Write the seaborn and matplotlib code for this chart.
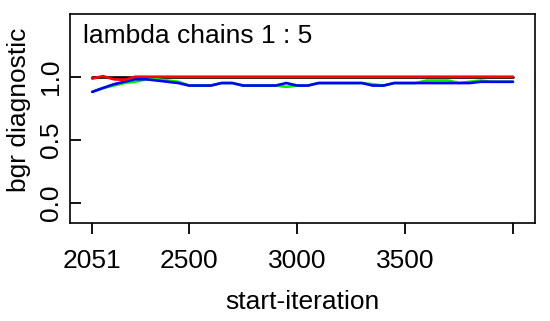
import matplotlib
matplotlib.use("Agg")
import matplotlib.pyplot as plt
import seaborn as sns
import pandas as pd

iterations = [2051, 2100, 2150, 2200, 2250, 2300, 2350, 2400, 2450, 2500,
              2550, 2600, 2650, 2700, 2750, 2800, 2850, 2900, 2950, 3000,
              3050, 3100, 3150, 3200, 3250, 3300, 3350, 3400, 3450, 3500,
              3550, 3600, 3650, 3700, 3750, 3800, 3850, 3900, 3950, 4000]

black_vals = [1.0] * 40

green_vals = [0.88, 0.91, 0.93, 0.95, 0.96, 0.98, 0.98, 0.97, 0.96, 0.93,
              0.93, 0.93, 0.95, 0.95, 0.93, 0.93, 0.93, 0.93, 0.92, 0.93,
              0.93, 0.95, 0.95, 0.95, 0.95, 0.95, 0.94, 0.93, 0.95, 0.95,
              0.95, 0.97, 0.97, 0.97, 0.95, 0.96, 0.97, 0.96, 0.96, 0.96]

blue_vals = [0.88, 0.91, 0.94, 0.96, 0.98, 0.98, 0.97, 0.96, 0.95, 0.93,
             0.93, 0.93, 0.95, 0.95, 0.93, 0.93, 0.93, 0.93, 0.95, 0.93,
             0.93, 0.95, 0.95, 0.95, 0.95, 0.95, 0.93, 0.93, 0.95, 0.95,
             0.95, 0.95, 0.95, 0.95, 0.95, 0.95, 0.96, 0.96, 0.96, 0.96]

red_vals = [0.985, 1.005, 0.98, 0.975, 1.0, 1.0, 1.0, 1.0, 1.0, 1.0,
            1.0, 1.0, 1.0, 1.0, 1.0, 1.0, 1.0, 1.0, 1.0, 1.0,
            1.0, 1.0, 1.0, 1.0, 1.0, 1.0, 1.0, 1.0, 1.0, 1.0,
            1.0, 1.0, 1.0, 1.0, 1.0, 1.0, 1.0, 1.0, 1.0, 1.0]

x_ticks = [2051, 2500, 3000, 3500, 4000]
x_tick_labels = ["2051", "2500", "3000", "3500", ""]
y_ticks = [0.0, 0.5, 1.0]
y_tick_labels = ["0.0", "0.5", "1.0"]

sns.set_style("white")
plt.rcParams['font.family'] = ['Liberation Sans', 'DejaVu Sans']
plt.rcParams['text.color'] = 'black'
plt.rcParams['axes.labelcolor'] = 'black'
plt.rcParams['xtick.color'] = 'black'
plt.rcParams['ytick.color'] = 'black'

W, H = 550, 321
fig = plt.figure(figsize=(W / 100, H / 100), dpi=100)
ax = fig.add_axes([70 / W, 1 - 222.5 / H, 465 / W, 208.5 / H])

frames = []
for name, vals in [("black", black_vals), ("green", green_vals),
                   ("blue", blue_vals), ("red", red_vals)]:
    frames.append(pd.DataFrame({"iteration": iterations, "value": vals, "series": name}))
df = pd.concat(frames, ignore_index=True)

palette = {"black": "#000000", "green": "#00ee00", "blue": "#0000ff", "red": "#ff0000"}
for name in ["black", "green", "blue", "red"]:
    sns.lineplot(data=df[df.series == name], x="iteration", y="value",
                 color=palette[name], linewidth=1.9, ax=ax, legend=False)

ax.set_xlim(1948, 4102)
ax.set_ylim(-0.157, 1.498)
ax.set_xticks(x_ticks)
ax.set_xticklabels(x_tick_labels, fontsize=19)
ax.set_yticks(y_ticks)
ax.set_yticklabels(y_tick_labels, fontsize=19, rotation=90, va="center")
ax.tick_params(axis="x", bottom=True, direction="out", length=8, width=1.3, pad=11,
               colors="black")
ax.tick_params(axis="y", left=True, direction="in", length=8, width=1.3, pad=5,
               colors="black")
for sp in ax.spines.values():
    sp.set_visible(True)
    sp.set_color("black")
    sp.set_linewidth(1.2)

ax.set_xlabel("start-iteration", fontsize=19, color="black")
ax.set_ylabel("bgr diagnostic", fontsize=19, color="black")
ax.xaxis.set_label_coords(0.5, (222.5 - 309) / 208.5)
ax.xaxis.label.set_va("baseline")
ax.yaxis.set_label_coords((19 - 70) / 465, (222.5 - 110) / 208.5)
ax.yaxis.label.set_va("center")

ax.text(0.028, 0.861, "lambda chains 1 : 5", transform=ax.transAxes,
        fontsize=19, ha="left", va="baseline", color="black")

fig.savefig("out.png", dpi=100)
